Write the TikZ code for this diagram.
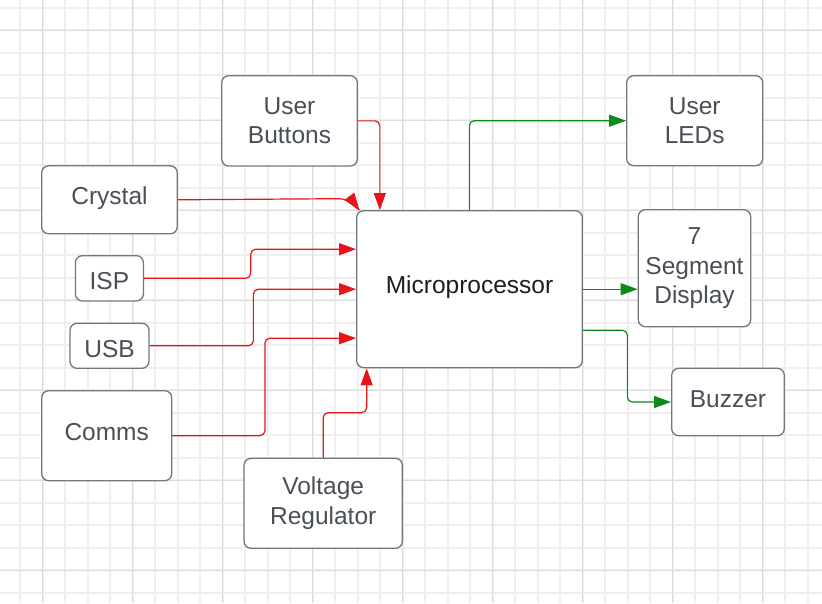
\documentclass[tikz,border=0pt]{standalone}
\usepackage{fontspec}
\setmainfont{Liberation Sans}
\usetikzlibrary{arrows.meta,calc}
\definecolor{gridminor}{HTML}{EFEFEF}
\definecolor{gridmajor}{HTML}{DCDCDC}
\definecolor{boxborder}{HTML}{73777D}
\definecolor{boxtext}{HTML}{4A4F57}
\definecolor{mptext}{HTML}{1E1E1E}
\definecolor{linkred}{HTML}{E81418}
\definecolor{linkgreen}{HTML}{0C8A1A}
\begin{document}
\begin{tikzpicture}[x=1pt,y=-1pt,
  block/.style={draw=boxborder,line width=1.3pt,fill=white,rounded corners=7pt,
    inner sep=0pt,align=center,text=boxtext,
    font=\fontsize{24.5}{29.5}\selectfont},
  redline/.style={draw=linkred,line width=1.2pt,rounded corners=5pt},
  redlink/.style={redline,-{Triangle[length=17pt,width=12pt]}},
  greenlink/.style={draw=linkgreen,line width=1.2pt,rounded corners=5pt,
    -{Triangle[length=17pt,width=12pt]}}]
\useasboundingbox (0,0) rectangle (822,603);
\fill[white] (0,0) rectangle (822,603);
% grid
\foreach \i in {0,...,36}{
  \pgfmathsetmacro{\gx}{20+22.5*\i}
  \draw[gridminor,line width=2pt] (\gx,0) -- (\gx,603);
}
\foreach \i in {0,...,26}{
  \pgfmathsetmacro{\gy}{7.5+22.5*\i}
  \draw[gridminor,line width=2pt] (0,\gy) -- (822,\gy);
}
\foreach \i in {0,...,8}{
  \pgfmathsetmacro{\gx}{42.5+90*\i}
  \draw[gridmajor,line width=1pt] (\gx,0) -- (\gx,603);
}
\foreach \i in {0,...,6}{
  \pgfmathsetmacro{\gy}{30+90*\i}
  \draw[gridmajor,line width=1pt] (0,\gy) -- (822,\gy);
}
% blocks
\node[block,minimum width=135.6pt,minimum height=90.3pt] (ub) at (289.5,120.85) {User\\Buttons};
\node[block,minimum width=135.6pt,minimum height=68pt,text depth=7.5pt] (crystal) at (109.5,199.8) {Crystal};
\node[block,minimum width=68pt,minimum height=45.3pt,text height=23.5pt] (isp) at (109.4,278.3) {ISP};
\node[block,minimum width=79pt,minimum height=45pt,text height=23.5pt] (usb) at (109.5,345.8) {USB};
\node[block,minimum width=130pt,minimum height=90pt,text depth=7pt] (comms) at (106.7,435.7) {Comms};
\node[block,minimum width=158.3pt,minimum height=90pt] (vr) at (323.2,503.3) {Voltage\\Regulator};
\node[block,minimum width=225.6pt,minimum height=157pt,text=mptext,text depth=9pt] (mp) at (469.5,289.2) {Microprocessor};
\node[block,minimum width=136pt,minimum height=90pt] (leds) at (694.7,120.7) {User\\LEDs};
\node[block,minimum width=112.4pt,minimum height=117pt] (seg) at (694.5,268.2) {7\\Segment\\Display};
\node[block,minimum width=112.6pt,minimum height=67.4pt,text depth=6pt] (buzzer) at (728,402) {Buzzer};
% red inputs
\draw[redlink] (ub.east) -| ($(mp.north west)+(23.8,0)$);
\coordinate (xtip) at ($(mp.north west)+(3.3,0)$);
\draw[redline] (crystal.east) -- ($(mp.north west)+(-11.7,-11.4)$) -- (xtip);
\draw[redlink] ($(xtip)+(-1.08,-1.49)$) -- (xtip);
\draw[redlink] (isp.east) -- ++(106.7,0) |- ($(mp.west)+(0,-40)$);
\draw[redlink] (usb.east) -- ++(103.7,0) |- (mp.west);
\draw[redlink] (comms.east) -- ++(92.6,0) |- ($(mp.west)+(0,49)$);
\draw[redlink] (vr.north) -- ++(0,-45) -| ($(mp.south west)+(10.6,0)$);
% green outputs
\draw[greenlink] ($(mp.north west)+(113.3,0)$) |- (leds.west);
\draw[greenlink] (mp.east) -- (mp.east -| seg.west);
\draw[greenlink] ($(mp.east)+(0,41)$) -- ++(44.4,0) |- (buzzer.west);
\end{tikzpicture}
\end{document}
